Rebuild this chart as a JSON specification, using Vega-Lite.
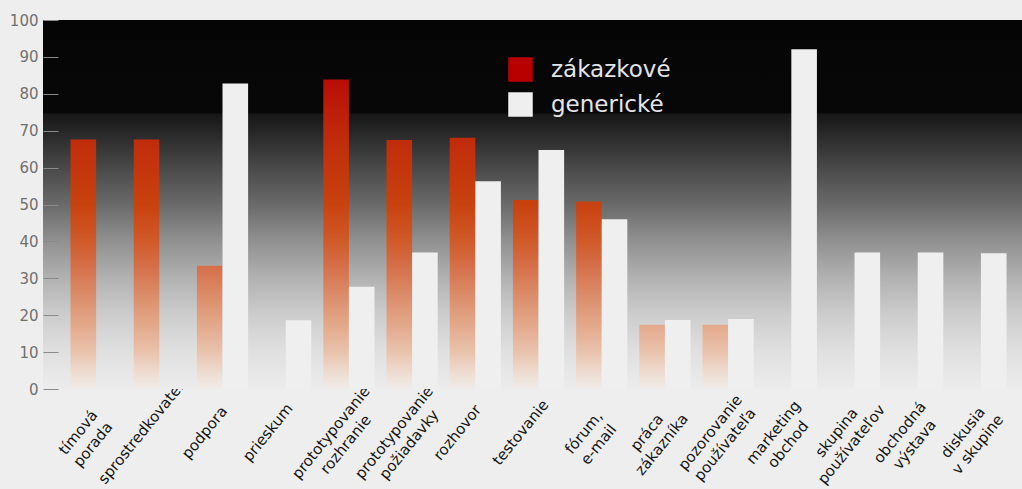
{
  "$schema": "https://vega.github.io/schema/vega-lite/v6.json",
  "width": 979,
  "height": 369,
  "autosize": {"type": "none"},
  "padding": {"left": 43, "top": 20, "right": 0, "bottom": 100},
  "background": "#eeeeee",
  "config": {
    "view": {"stroke": null},
    "font": "DejaVu Sans",
    "axisY": {"domain": false, "grid": false, "tickColor": "#8a8a8a", "tickSize": -15, "labelPadding": 20, "labelFontSize": 15, "labelColor": "#707070", "tickCount": 10, "title": null},
    "axisX": {"domain": false, "ticks": false, "labelAngle": -51, "labelAlign": "center", "labelBaseline": "middle", "labelPadding": 43, "labelOffset": -18, "labelFontSize": 15, "labelColor": "#151515", "labelLineHeight": 19, "labelOverlap": false, "labelLimit": 0, "labelBound": false, "title": null},
    "legend": {"orient": "none", "legendX": 465, "legendY": 37, "padding": 0, "symbolType": "square", "symbolSize": 600, "symbolStrokeWidth": 0, "symbolOpacity": 1, "labelFontSize": 23, "labelColor": "#e4e4e4", "labelOffset": 18, "rowPadding": 10, "title": null}
  },
  "data": {"values": [
    {"cat": "tímová porada", "series": "zákazkové", "value": 67.6},
    {"cat": "sprostredkovateľ", "series": "zákazkové", "value": 67.6},
    {"cat": "podpora", "series": "zákazkové", "value": 33.4},
    {"cat": "podpora", "series": "generické", "value": 82.8},
    {"cat": "prieskum", "series": "generické", "value": 18.6},
    {"cat": "prototypovanie rozhranie", "series": "zákazkové", "value": 83.9},
    {"cat": "prototypovanie rozhranie", "series": "generické", "value": 27.7},
    {"cat": "prototypovanie požiadavky", "series": "zákazkové", "value": 67.5},
    {"cat": "prototypovanie požiadavky", "series": "generické", "value": 37},
    {"cat": "rozhovor", "series": "zákazkové", "value": 68.1},
    {"cat": "rozhovor", "series": "generické", "value": 56.3},
    {"cat": "testovanie", "series": "zákazkové", "value": 51.2},
    {"cat": "testovanie", "series": "generické", "value": 64.8},
    {"cat": "fórum, e-mail", "series": "zákazkové", "value": 50.8},
    {"cat": "fórum, e-mail", "series": "generické", "value": 46},
    {"cat": "práca zákazníka", "series": "zákazkové", "value": 17.4},
    {"cat": "práca zákazníka", "series": "generické", "value": 18.7},
    {"cat": "pozorovanie používateľa", "series": "zákazkové", "value": 17.4},
    {"cat": "pozorovanie používateľa", "series": "generické", "value": 19},
    {"cat": "marketing obchod", "series": "generické", "value": 92.1},
    {"cat": "skupina používateľov", "series": "generické", "value": 37},
    {"cat": "obchodná výstava", "series": "generické", "value": 37},
    {"cat": "diskusia v skupine", "series": "generické", "value": 36.8}
  ]},
  "layer": [
    {
      "data": {"values": [{"top": 100, "bottom": 0}]},
      "mark": {"type": "rect", "color": {"gradient": "linear", "x1": 1, "x2": 1, "y1": 0, "y2": 1, "stops": [
        {"offset": 0, "color": "#050505"},
        {"offset": 0.25, "color": "#070707"},
        {"offset": 0.256, "color": "#171717"},
        {"offset": 0.3, "color": "#262626"},
        {"offset": 0.35, "color": "#373737"},
        {"offset": 0.4, "color": "#494949"},
        {"offset": 0.5, "color": "#6a6a6a"},
        {"offset": 0.6, "color": "#919191"},
        {"offset": 0.7, "color": "#b2b2b2"},
        {"offset": 0.8, "color": "#cdcdcd"},
        {"offset": 0.9, "color": "#e0e0e0"},
        {"offset": 1, "color": "#ececec"}
      ]}},
      "encoding": {
        "y": {"field": "top", "type": "quantitative", "scale": {"domain": [0, 100], "nice": false}, "title": null, "axis": {"zindex": 1}},
        "y2": {"field": "bottom"}
      }
    },
    {
      "transform": [{"filter": "datum.series === 'zákazkové'"}],
      "mark": {"type": "bar", "fill": {"expr": "{gradient: 'linear', x1: 1, x2: 1, y1: 1 - 100 / max(datum.value, 0.5), y2: 1, stops: [{offset: 0, color: '#a80000'}, {offset: 0.16, color: '#b90d06'}, {offset: 0.32, color: '#c02b0b'}, {offset: 0.5, color: '#c8420f'}, {offset: 0.6, color: '#d05a2a'}, {offset: 0.67, color: '#d5704a'}, {offset: 0.8, color: '#e0a080'}, {offset: 0.83, color: '#e3a98c'}, {offset: 0.9, color: '#e9c3ad'}, {offset: 0.97, color: '#efe2da'}, {offset: 1, color: '#f0ecea'}]}"}},
      "encoding": {
        "x": {"field": "cat", "type": "nominal", "sort": null, "scale": {"domain": ["tímová porada", "sprostredkovateľ", "podpora", "prieskum", "prototypovanie rozhranie", "prototypovanie požiadavky", "rozhovor", "testovanie", "fórum, e-mail", "práca zákazníka", "pozorovanie používateľa", "marketing obchod", "skupina používateľov", "obchodná výstava", "diskusia v skupine"], "paddingInner": 0.19, "paddingOuter": 0.34, "align": 0.64}, "axis": {"labelExpr": "indexof(datum.value, ' ') > 0 ? [substring(datum.value, 0, indexof(datum.value, ' ')), substring(datum.value, indexof(datum.value, ' ') + 1)] : datum.value"}},
        "xOffset": {"field": "series", "type": "nominal", "scale": {"domain": ["zákazkové", "generické"], "paddingInner": 0, "paddingOuter": 0}},
        "y": {"field": "value", "type": "quantitative", "axis": {"zindex": 1}}
      }
    },
    {
      "transform": [{"filter": "datum.series === 'generické'"}],
      "mark": {"type": "bar"},
      "encoding": {
        "x": {"field": "cat", "type": "nominal", "sort": null},
        "xOffset": {"field": "series", "type": "nominal"},
        "y": {"field": "value", "type": "quantitative", "axis": {"zindex": 1}},
        "color": {"field": "series", "type": "nominal", "scale": {"domain": ["zákazkové", "generické"], "range": ["#b80000", "#efefef"]}}
      }
    }
  ]
}
